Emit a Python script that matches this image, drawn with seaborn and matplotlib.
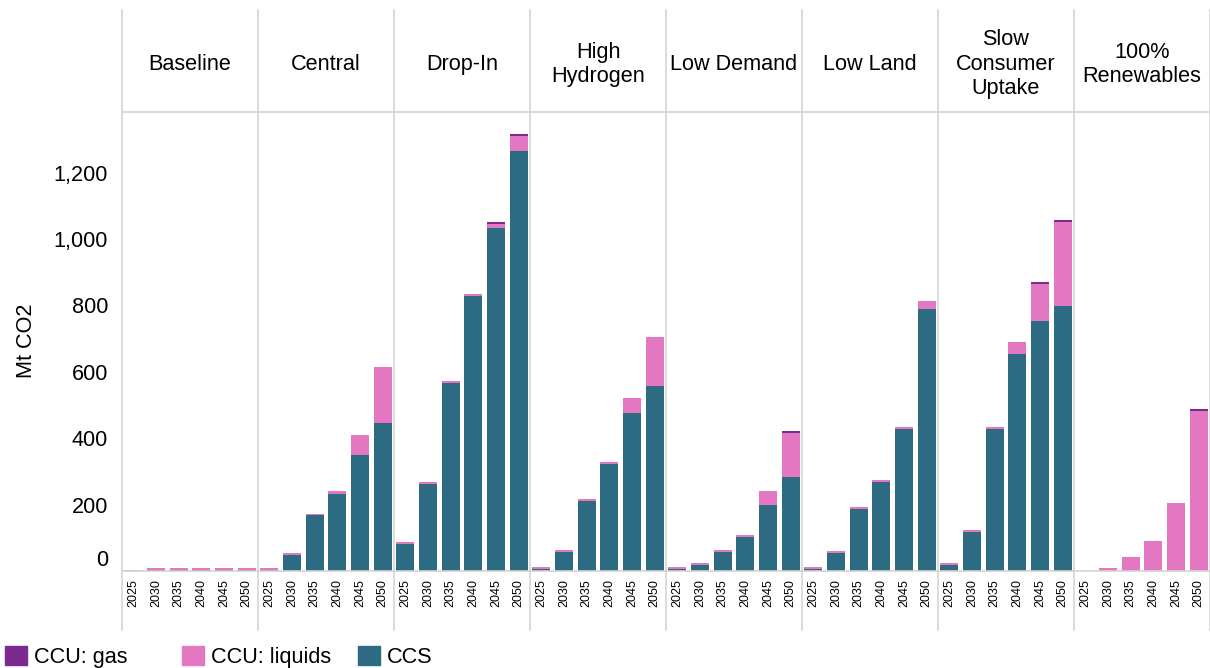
import numpy as np
import pandas as pd
import matplotlib
matplotlib.use("Agg")
import matplotlib.pyplot as plt
import matplotlib.transforms as mtransforms
from matplotlib.patches import Patch
from matplotlib.lines import Line2D
import seaborn as sns

# --- data ---
years = ["2025", "2030", "2035", "2040", "2045", "2050"]
scenarios = ["Baseline", "Central", "Drop-In", "High\nHydrogen", "Low Demand",
             "Low Land", "Slow\nConsumer\nUptake", "100%\nRenewables"]

ccs = [
    [1, 3, 3, 3, 3, 3],
    [3, 47, 168, 231, 349, 446],
    [80, 261, 566, 828, 1034, 1266],
    [5, 56, 210, 322, 475, 557],
    [5, 17, 56, 101, 198, 282],
    [5, 53, 186, 267, 427, 789],
    [17, 119, 427, 654, 753, 798],
    [0, 0, 0, 0, 0, 0],
]
ccu_liquids = [
    [2, 6, 6, 6, 6, 6],
    [6, 6, 5, 9, 60, 168],
    [6, 6, 6, 6, 12, 45],
    [6, 6, 6, 6, 45, 148],
    [6, 6, 6, 6, 42, 133],
    [6, 6, 6, 6, 6, 24],
    [6, 6, 6, 36, 111, 254],
    [0, 8, 41, 89, 204, 482],
]
ccu_gas = [
    [0, 0, 0, 0, 0, 0],
    [0, 0, 0, 0, 0, 0],
    [0, 0, 0, 0, 6, 6],
    [0, 0, 0, 0, 0, 0],
    [0, 0, 0, 0, 0, 6],
    [0, 0, 0, 0, 0, 0],
    [0, 0, 0, 0, 6, 6],
    [0, 0, 0, 0, 0, 6],
]

col_gas = "#7B2A8F"
col_liq = "#E377C2"
col_ccs = "#2D6B82"
grid_col = "#d4d4d4"

sns.set_style("white")
plt.rcParams["font.family"] = ["Liberation Sans", "DejaVu Sans"]
plt.rcParams["text.color"] = "black"
plt.rcParams["xtick.labelcolor"] = "black"
plt.rcParams["ytick.labelcolor"] = "black"

W, H = 1210, 668
fig = plt.figure(figsize=(W / 100, H / 100), dpi=100)

x0, x1 = 122, 1210
y_top, y_base = 112, 571
pw = (x1 - x0) / len(scenarios)
ymax = 1383
fs = 15.6

def fx(px):
    return px / W

def fy(py):
    return 1 - py / H

for i, name in enumerate(scenarios):
    ax = fig.add_axes([fx(x0 + i * pw), fy(y_base), fx(pw), fy(y_top) - fy(y_base)])
    df = pd.DataFrame({
        "year": years,
        "ccs": ccs[i],
        "liq": np.array(ccs[i]) + np.array(ccu_liquids[i]),
        "gas": np.array(ccs[i]) + np.array(ccu_liquids[i]) + np.array(ccu_gas[i]),
    })
    # stacked bars: draw cumulative totals back to front
    sns.barplot(data=df, x="year", y="gas", color=col_gas, saturation=1, width=0.8,
                linewidth=0, ax=ax)
    sns.barplot(data=df, x="year", y="liq", color=col_liq, saturation=1, width=0.8,
                linewidth=0, ax=ax)
    sns.barplot(data=df, x="year", y="ccs", color=col_ccs, saturation=1, width=0.8,
                linewidth=0, ax=ax)
    ax.set_ylim(0, ymax)
    ax.set_xlim(-0.5, 5.5)
    ax.set_xlabel("")
    ax.set_ylabel("")
    for s in ["top", "right", "left"]:
        ax.spines[s].set_visible(False)
    ax.spines["bottom"].set_color(grid_col)
    ax.spines["bottom"].set_linewidth(1.2)
    ax.tick_params(axis="x", length=0, labelsize=9.0, rotation=90, pad=6)
    ax.set_xticks(np.arange(0.5, 5.5, 1), minor=True)
    ax.tick_params(axis="x", which="minor", length=7, color="#efefef", width=1)
    if i == 0:
        ticks = [0, 200, 400, 600, 800, 1000, 1200]
        ax.set_yticks(ticks)
        ax.set_yticklabels([f"{v:,}" for v in ticks])
        ax.tick_params(axis="y", length=6, color="#eeeeee", labelsize=fs, pad=4)
        lbl0 = ax.get_yticklabels()[0]
        lbl0.set_transform(lbl0.get_transform() +
                           mtransforms.ScaledTranslation(0, 13 / 100, fig.dpi_scale_trans))
    else:
        ax.set_yticks([])
    # header text, one line at a time, centred on y=62px
    lines = name.split("\n")
    for k, line in enumerate(lines):
        yc = 62 + (k - (len(lines) - 1) / 2) * 24.5
        fig.text(fx(x0 + (i + 0.5) * pw), fy(yc + 7.8), line, ha="center",
                 va="baseline", fontsize=fs)

fig.text(fx(27), fy(341), "Mt CO2", rotation=90, ha="center", va="center", fontsize=fs)

# panel separators and header line
for i in range(len(scenarios) + 1):
    xp = x0 + i * pw
    fig.add_artist(Line2D([fx(xp), fx(xp)], [fy(10), fy(630)], color=grid_col, lw=1.2))
fig.add_artist(Line2D([fx(x0), fx(x1)], [fy(y_top), fy(y_top)], color=grid_col, lw=1.2))

# legend entries at fixed positions
legend_items = [(col_gas, "CCU: gas", 5), (col_liq, "CCU: liquids", 182), (col_ccs, "CCS", 358)]
for color, label, xpos in legend_items:
    fig.legend(handles=[Patch(color=color, label=label)], loc="lower left",
               bbox_to_anchor=(fx(xpos), fy(668)), frameon=False, fontsize=fs,
               handlelength=1.0, handleheight=1.0, handletextpad=0.35,
               borderaxespad=0, borderpad=0)

fig.savefig("out.png", dpi=100)
